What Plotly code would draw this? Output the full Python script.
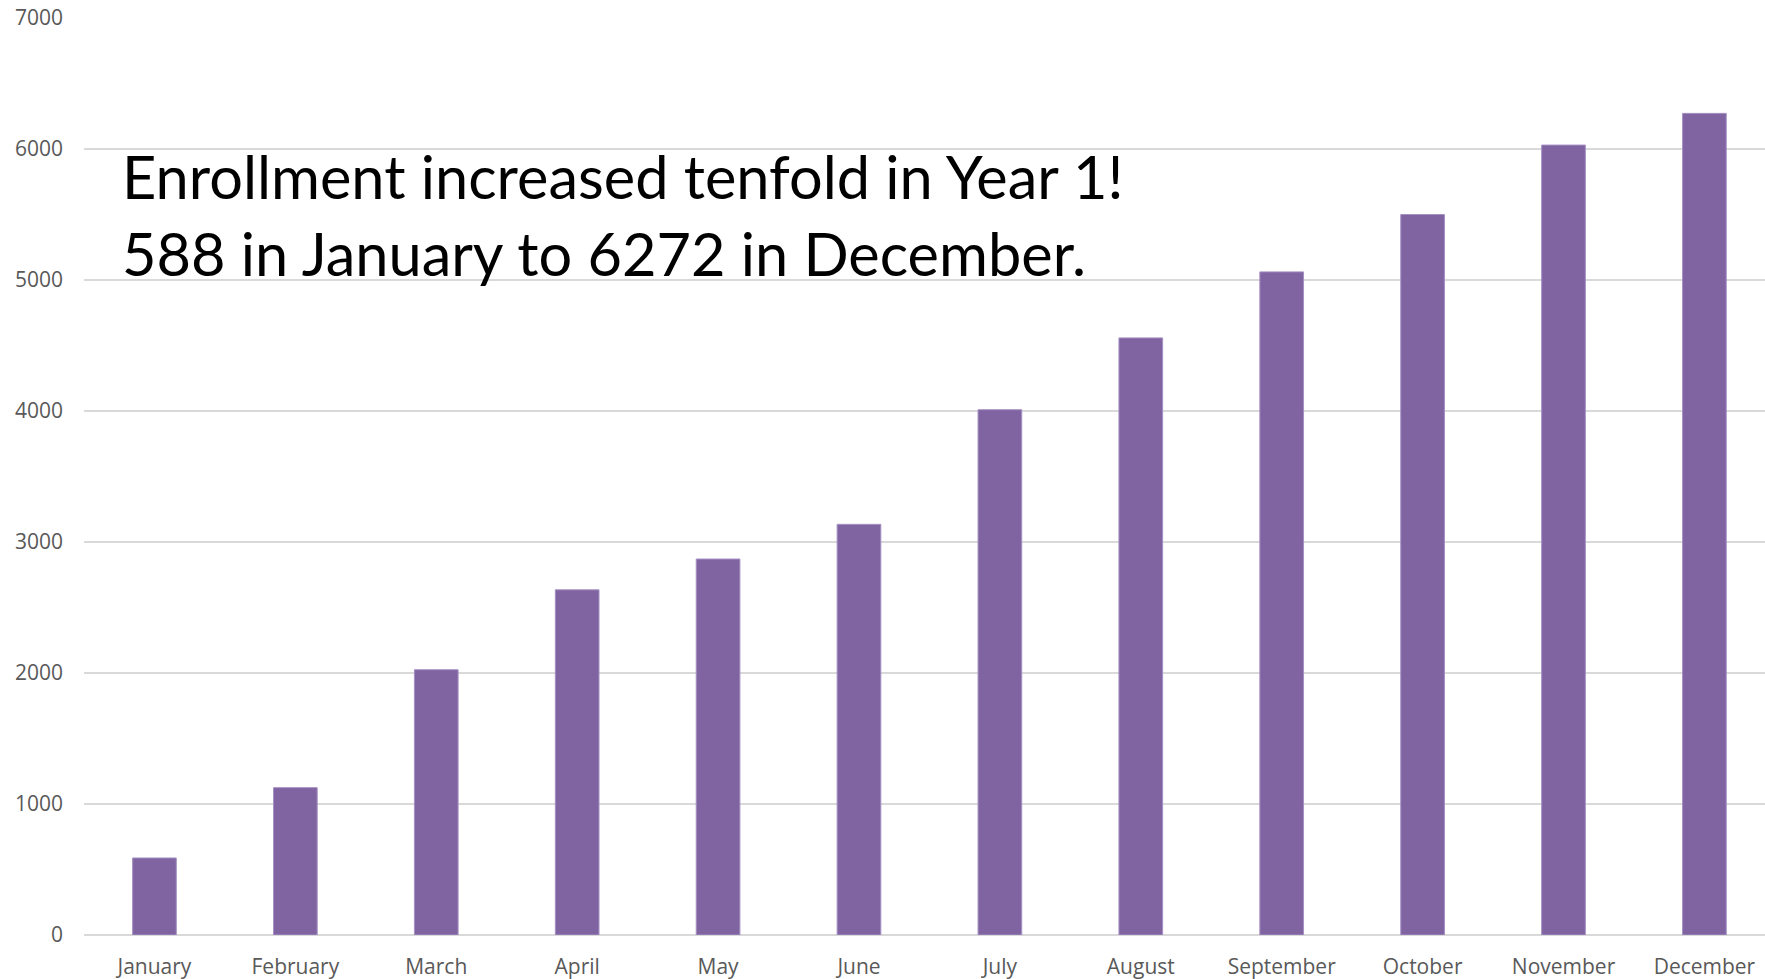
import plotly.graph_objects as go

months = ["January", "February", "March", "April", "May", "June", "July",
          "August", "September", "October", "November", "December"]
enrollment = [588, 1125, 2025, 2635, 2870, 3135, 4010, 4558, 5062, 5500, 6030, 6272]
y_ticks = [0, 1000, 2000, 3000, 4000, 5000, 6000, 7000]
headline = "Enrollment increased tenfold in Year 1!<br>588 in January to 6272 in December."

fig = go.Figure()
fig.add_trace(go.Bar(
    x=months, y=enrollment,
    marker=dict(color="#8064a2", line=dict(color="#a590c4", width=1)),
    hoverinfo="x+y",
))

fig.update_layout(
    width=1765, height=979,
    margin=dict(l=84, r=0, t=18, b=44),
    paper_bgcolor="white", plot_bgcolor="white",
    bargap=0.69,
    showlegend=False,
    font=dict(family="Open Sans", color="#595959", size=21),
)
fig.update_xaxes(
    range=[-0.5, 11.43], showgrid=False, showline=False, zeroline=False,
    ticks="", tickfont=dict(size=21, color="#595959"), ticklabelstandoff=17,
)
fig.update_yaxes(
    range=[0, 7000], tickvals=y_ticks, showgrid=True, gridcolor="#d9d9d9",
    gridwidth=2, zeroline=True, zerolinecolor="#d9d9d9", zerolinewidth=2,
    showline=False, ticks="", tickfont=dict(size=21, color="#595959"),
    ticklabelstandoff=20,
)
fig.add_annotation(
    xref="paper", yref="paper", x=0.0214, y=0.869,
    xanchor="left", yanchor="top", align="left", showarrow=False,
    text=headline, font=dict(family="Lato", size=59.5, color="black"),
)
fig.write_html(
    "out.html",
    config={"displayModeBar": False},
    post_script="document.body.style.margin='0';document.body.style.overflow='hidden';",
)
